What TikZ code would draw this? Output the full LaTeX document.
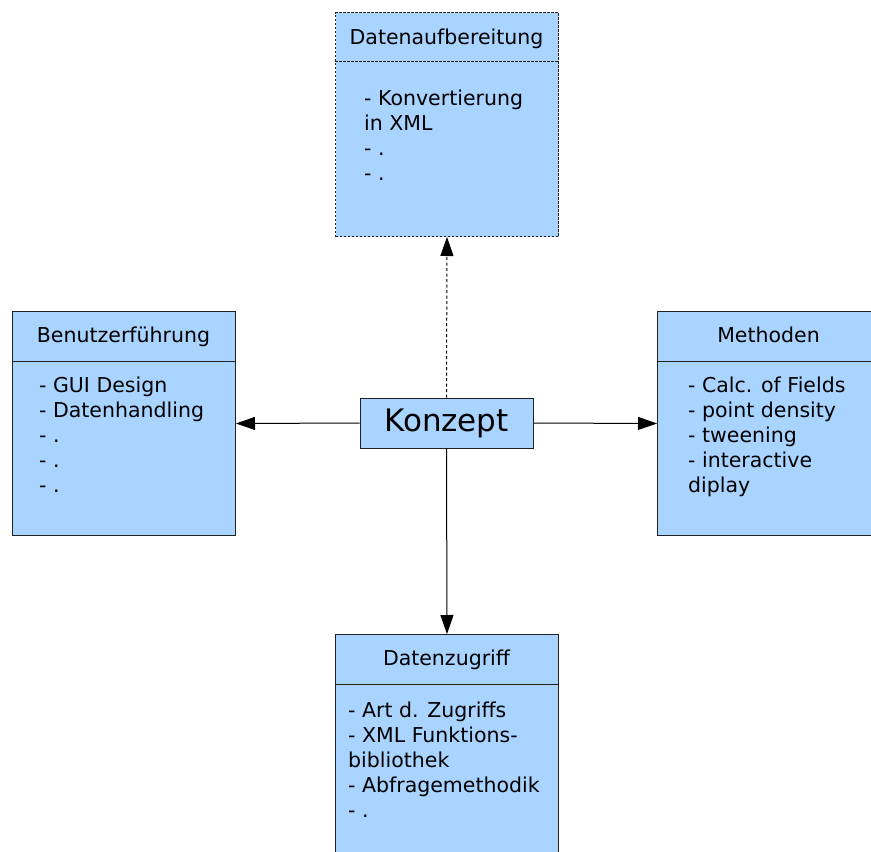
\documentclass[tikz,border=0pt]{standalone}
\usepackage{fontspec}
\setmainfont{DejaVu Sans}
\usetikzlibrary{arrows.meta}
\definecolor{boxblue}{HTML}{A8D4FF}
\definecolor{edge}{HTML}{222222}
\tikzset{
  panel/.style={draw=edge, fill=boxblue, line width=1pt, minimum width=223pt,
    minimum height=224pt, anchor=north west, inner sep=0pt},
  dashpanel/.style={panel, dash pattern=on 2.5pt off 1.5pt},
  title/.style={anchor=base, inner sep=0pt, font=\fontsize{20.5}{25}\selectfont},
  body/.style={anchor=base west, inner sep=0pt, font=\fontsize{20.5}{25}\selectfont},
  arr/.style={-{Triangle[length=19pt,width=13pt]}, line width=1pt, black},
}
\newcommand{\lines}[1]{\begin{tabular}[t]{@{}l@{}}#1\end{tabular}}
\begin{document}
\begin{tikzpicture}[x=1pt,y=-1pt]
  \useasboundingbox (0,0) rectangle (871,852);
  \clip (0,0) rectangle (871,852);

  % the four panels
  \node[dashpanel] (prep) at (335,12) {};
  \node[panel] (user) at (12,311) {};
  \node[panel] (meth) at (657,311) {};
  \node[panel] (access) at (335,634) {};

  % header separators
  \draw[edge, line width=1pt, dash pattern=on 2.5pt off 1.5pt] (335,61) -- (558,61);
  \draw[edge, line width=1pt] (12,361) -- (235,361);
  \draw[edge, line width=1pt] (657,361) -- (880,361);
  \draw[edge, line width=1pt] (335,684) -- (558,684);

  % titles
  \node[title] (prepT) at (446.5,44) {Datenaufbereitung};
  \node[title] (userT) at (123.5,342) {Benutzerführung};
  \node[title] (methT) at (768.5,342) {Methoden};
  \node[title] (accessT) at (446.5,665) {Datenzugriff};

  % contents
  \node[body] (prepB) at (364,105) {\lines{- Konvertierung\\in XML\\- .\\- .}};
  \node[body] (userB) at (39,392) {\lines{- GUI Design\\- Datenhandling\\- .\\- .\\- .}};
  \node[body] (methB) at (688,392) {\lines{- Calc. of Fields\\- point density\\- tweening\\- interactive\\diplay}};
  \node[body] (accessB) at (348,717) {\lines{- Art d. Zugriffs\\- XML Funktions-\\bibliothek\\- Abfragemethodik\\- .}};

  % central concept
  \node[draw=edge, fill=boxblue, line width=1pt, minimum width=173pt, minimum height=50pt,
        inner sep=0pt, font=\fontsize{31}{36}\selectfont] (konzept) at (446.5,423) {Konzept};

  % connectors
  \draw[arr, dash pattern=on 3pt off 2.5pt] (konzept.north) -- (prep.south);
  \draw[arr] (konzept.west) -- (user.east);
  \draw[arr] (konzept.east) -- (meth.west);
  \draw[arr] (konzept.south) -- (access.north);
\end{tikzpicture}
\end{document}
